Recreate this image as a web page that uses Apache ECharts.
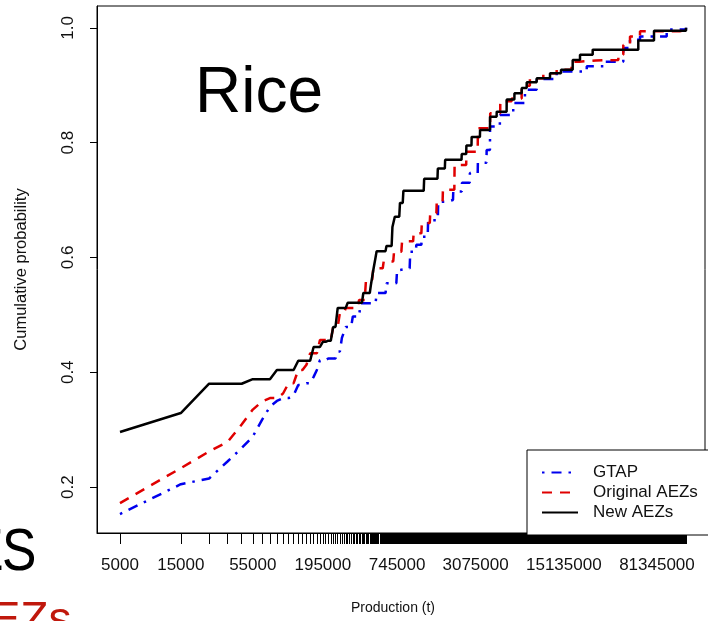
<!DOCTYPE html>
<html>
<head>
<meta charset="utf-8">
<script src="https://cdn.jsdelivr.net/npm/echarts@6/dist/echarts.min.js"></script>
<style>
  html, body { margin: 0; padding: 0; background: #fff; }
  #chart { width: 708px; height: 621px; }
</style>
</head>
<body>
<div id="chart"></div>
<script>
// Production is binned in 10 000 t classes centred on ...5000 t.
const BIN_STEP = 10000;
const FIRST_BIN = 5000;
const LAST_BIN = 137475000;

// Labelled production classes on the x axis
const productionLabels = [5000, 15000, 55000, 195000, 745000, 3075000, 15135000, 81345000];
// Cumulative probability ticks
const probabilityTicks = [0.2, 0.4, 0.6, 0.8, 1.0];

const seriesNames = ['GTAP', 'Original AEZs', 'New AEZs'];

// Empirical CDFs: production class where the cumulative probability steps up, and the new level
const gtapProduction = [5000, 15000, 25000, 35000, 45000, 55000, 65000, 75000, 85000, 95000, 115000, 125000, 145000, 165000, 175000, 185000, 215000, 255000, 275000, 295000, 335000, 385000, 515000, 615000, 745000, 785000, 945000, 1055000, 1165000, 1305000, 1565000, 1815000, 2055000, 2405000, 2775000, 3205000, 3755000, 3995000, 4775000, 6075000, 7505000, 9275000, 13305000, 22905000, 30905000, 44305000, 50005000, 59905000, 97005000, 137475000];
const gtapProbability = [0.153, 0.205, 0.215, 0.245, 0.268, 0.288, 0.317, 0.340, 0.350, 0.355, 0.360, 0.378, 0.381, 0.392, 0.404, 0.421, 0.424, 0.436, 0.460, 0.479, 0.497, 0.520, 0.538, 0.555, 0.578, 0.581, 0.610, 0.622, 0.636, 0.665, 0.697, 0.700, 0.715, 0.730, 0.747, 0.765, 0.787, 0.828, 0.848, 0.869, 0.892, 0.911, 0.924, 0.933, 0.941, 0.965, 0.979, 0.985, 0.997, 1.0];

const originalProduction = [5000, 15000, 25000, 35000, 45000, 55000, 65000, 75000, 95000, 105000, 125000, 145000, 155000, 185000, 235000, 265000, 295000, 375000, 425000, 485000, 585000, 705000, 815000, 1005000, 1165000, 1355000, 1525000, 1705000, 2105000, 2605000, 3205000, 4005000, 4805000, 5905000, 7075000, 8205000, 10455000, 13305000, 17405000, 20005000, 27005000, 40505000, 44305000, 50005000, 59905000, 123005000, 137475000];
const originalProbability = [0.172, 0.233, 0.262, 0.279, 0.309, 0.335, 0.349, 0.355, 0.363, 0.381, 0.404, 0.413, 0.433, 0.456, 0.479, 0.503, 0.512, 0.526, 0.561, 0.581, 0.593, 0.610, 0.628, 0.642, 0.660, 0.677, 0.697, 0.718, 0.761, 0.784, 0.825, 0.851, 0.872, 0.877, 0.899, 0.912, 0.921, 0.927, 0.941, 0.943, 0.944, 0.953, 0.970, 0.985, 0.994, 0.997, 1.0];

const newProduction = [5000, 15000, 25000, 55000, 85000, 125000, 165000, 195000, 215000, 235000, 255000, 305000, 405000, 465000, 485000, 505000, 515000, 615000, 685000, 715000, 785000, 835000, 1215000, 1555000, 1775000, 2395000, 2605000, 2865000, 3335000, 3995000, 4505000, 5395000, 6205000, 7075000, 7745000, 9275000, 11795000, 14385000, 17765000, 20275000, 25495000, 58085000, 77145000, 137475000];
const newProbability = [0.296, 0.329, 0.380, 0.388, 0.404, 0.420, 0.444, 0.453, 0.455, 0.479, 0.512, 0.521, 0.538, 0.553, 0.578, 0.600, 0.611, 0.620, 0.653, 0.671, 0.695, 0.716, 0.737, 0.755, 0.770, 0.780, 0.795, 0.810, 0.822, 0.845, 0.854, 0.875, 0.886, 0.895, 0.905, 0.912, 0.921, 0.927, 0.944, 0.953, 0.962, 0.978, 0.995, 1.0];

const FONT = '"Liberation Sans", Arial, Helvetica, sans-serif';
const log10 = Math.log10;

// The curve is drawn through every production class, so the level holds
// until the class just before each step.
function cdfPoints(production, probability) {
  const pts = [];
  for (let i = 0; i < production.length; i++) {
    if (i > 0 && production[i] - BIN_STEP > production[i - 1]) {
      pts.push([log10(production[i] - BIN_STEP), probability[i - 1]]);
    }
    pts.push([log10(production[i]), probability[i]]);
  }
  return pts;
}

// One rug tick per production class
const classTicks = [];
for (let v = FIRST_BIN; v <= LAST_BIN; v += BIN_STEP) classTicks.push(log10(v));

const chart = echarts.init(document.getElementById('chart'), null, { renderer: 'canvas' });

chart.setOption({
  animation: false,
  backgroundColor: '#fff',
  textStyle: { fontFamily: FONT },
  grid: {
    left: 97, top: 6, right: 3, bottom: 88,
    show: true, borderColor: '#000', borderWidth: 1, backgroundColor: 'transparent'
  },
  xAxis: {
    type: 'value',
    min: 3.5186,
    max: 8.2872,
    name: 'Production (t)',
    nameLocation: 'middle',
    nameGap: 68,
    nameTextStyle: { fontSize: 14, color: '#111', fontFamily: FONT, padding: [0, 16, 0, 0] },
    splitLine: { show: false },
    axisLine: { show: true, lineStyle: { color: '#000', width: 1 } },
    axisTick: {
      show: true, inside: false, length: 11,
      customValues: classTicks,
      lineStyle: { color: '#000', width: 1 }
    },
    axisLabel: {
      customValues: productionLabels.map(log10),
      formatter: v => String(Math.round(Math.pow(10, v))),
      margin: 24,
      fontSize: 17,
      color: '#111',
      fontFamily: FONT,
      hideOverlap: false
    }
  },
  yAxis: {
    type: 'value',
    min: 0.12,
    max: 1.038,
    name: 'Cumulative probability',
    nameLocation: 'middle',
    nameGap: 67,
    nameTextStyle: { fontSize: 16.5, color: '#111', fontFamily: FONT },
    splitLine: { show: false },
    axisLine: { show: true, lineStyle: { color: '#000', width: 1 } },
    axisTick: {
      show: true, length: 7,
      customValues: probabilityTicks,
      lineStyle: { color: '#000', width: 1 }
    },
    axisLabel: {
      customValues: probabilityTicks,
      formatter: v => v.toFixed(1),
      rotate: 90,
      margin: 20,
      fontSize: 17,
      color: '#111',
      fontFamily: FONT
    }
  },
  legend: {
    orient: 'vertical',
    left: 527,
    top: 450,
    padding: [14, 14, 14, 14],
    itemGap: 3,
    itemWidth: 36,
    itemHeight: 14,
    borderColor: '#000',
    borderWidth: 1,
    borderRadius: 0,
    backgroundColor: '#fff',
    data: seriesNames,
    itemStyle: { opacity: 0 },
    textStyle: { fontSize: 17, color: '#111', fontFamily: FONT, padding: [0, 0, 0, 10] }
  },
  series: [
    {
      name: seriesNames[0],
      type: 'line',
      symbol: 'none',
      data: cdfPoints(gtapProduction, gtapProbability),
      lineStyle: { color: '#0000ee', width: 2.5, type: [2.5, 7, 10, 7], cap: 'butt' },
      itemStyle: { color: '#0000ee' },
      z: 2
    },
    {
      name: seriesNames[1],
      type: 'line',
      symbol: 'none',
      data: cdfPoints(originalProduction, originalProbability),
      lineStyle: { color: '#e00000', width: 2.5, type: [10, 8], cap: 'butt' },
      itemStyle: { color: '#e00000' },
      z: 3
    },
    {
      name: seriesNames[2],
      type: 'line',
      symbol: 'none',
      data: cdfPoints(newProduction, newProbability),
      lineStyle: { color: '#000', width: 2.5, type: 'solid' },
      itemStyle: { color: '#000' },
      z: 4
    }
  ],
  graphic: [
    {
      type: 'text', left: 195, top: 62,
      style: { text: 'Rice', fontSize: 64, fontFamily: FONT, fill: '#000' }
    },
    {
      type: 'text', x: 4, y: 553,
      style: { text: 'E', fontSize: 60, fontFamily: FONT, fill: '#000', align: 'right', verticalAlign: 'middle' }
    },
    {
      type: 'text', x: 2, y: 553, scaleX: 0.86,
      style: { text: 'S', fontSize: 60, fontFamily: FONT, fill: '#000', align: 'left', verticalAlign: 'middle' }
    },
    {
      type: 'text', x: -41, y: 621,
      style: { text: 'AEZs', fontSize: 46, fontFamily: FONT, fill: '#c0180c', align: 'left', verticalAlign: 'middle' }
    }
  ]
});
</script>
</body>
</html>
